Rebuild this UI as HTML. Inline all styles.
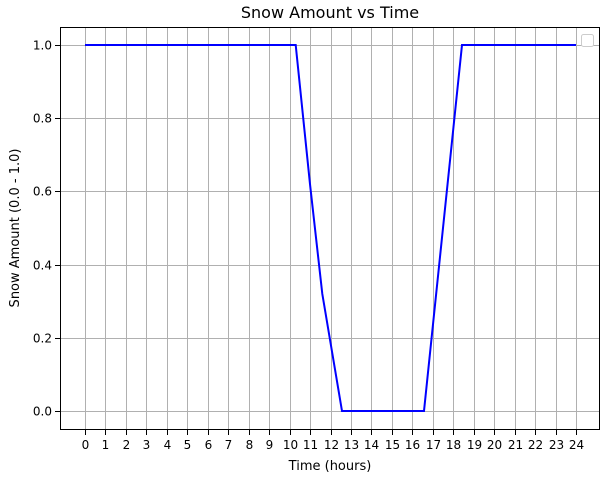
<!DOCTYPE html>
<html><head><meta charset="utf-8"><style>
body{margin:0;background:#fff;}
svg text{font-family:"DejaVu Sans","Liberation Sans",sans-serif;fill:#000;}
</style></head><body>
<svg id="chart" width="606" height="474" xmlns="http://www.w3.org/2000/svg">
<rect x="0" y="0" width="606" height="474" fill="#fff"/>
<text x="330" y="18" text-anchor="middle" font-size="16">Snow Amount vs Time</text>
<g id="grid"></g>
<g id="ticks"></g>
<path id="line" fill="none" stroke="#0000ff" stroke-width="2"/>
<rect x="60.5" y="27.5" width="539" height="402" fill="none" stroke="#000" stroke-width="1"/>
<rect x="581.5" y="34.5" width="12" height="12" rx="2" fill="#fff" stroke="#ccc"/>
<text x="330" y="470" text-anchor="middle" font-size="13">Time (hours)</text>
<text transform="translate(19,228) rotate(-90)" text-anchor="middle" font-size="13">Snow Amount (0.0 - 1.0)</text>
</svg>
<script>
const xTicks=[0,1,2,3,4,5,6,7,8,9,10,11,12,13,14,15,16,17,18,19,20,21,22,23,24];
const yTicks=[0,0.2,0.4,0.6,0.8,1.0];
const times=[0,10.3,11.0,11.6,12.56,16.57,18.43,24];
const snow=[1,1,0.62,0.32,0,0,1,1];
const NS='http://www.w3.org/2000/svg';
function xs(t){return 85+t*(576-85)/24;}
function ys(v){return 411-v*(411-45);}
const grid=document.getElementById('grid'),ticks=document.getElementById('ticks');
function mk(tag,attrs,parent){const e=document.createElementNS(NS,tag);for(const k in attrs)e.setAttribute(k,attrs[k]);parent.appendChild(e);return e;}
xTicks.forEach(t=>{
 const x=Math.round(xs(t))+0.5;
 const g=mk('line',{x1:x,x2:x,y1:27,y2:430,stroke:'#b0b0b0','stroke-width':1},grid);
 
 
 const tk=mk('line',{x1:x,x2:x,y1:430,y2:435,stroke:'#000'},ticks);
 
 
 const tx=mk('text',{x:x,y:449,'text-anchor':'middle','font-size':12},ticks);
 tx.textContent=String(t);
 
 
});
yTicks.forEach(v=>{
 const y=Math.round(ys(v))+0.5;
 const g=mk('line',{x1:60,x2:600,y1:y,y2:y,stroke:'#b0b0b0','stroke-width':1},grid);
 
 
 const tk=mk('line',{x1:55,x2:60,y1:y,y2:y,stroke:'#000'},ticks);
 
 
 const tx=mk('text',{x:52,y:y+4,'text-anchor':'end','font-size':12},ticks);
 tx.textContent=v.toFixed(1);
 
 
});
document.getElementById('line').setAttribute('d',times.map((t,i)=>(i?'L':'M')+xs(t).toFixed(1)+' '+ys(snow[i]).toFixed(1)).join(' '));
</script>
</body></html>
